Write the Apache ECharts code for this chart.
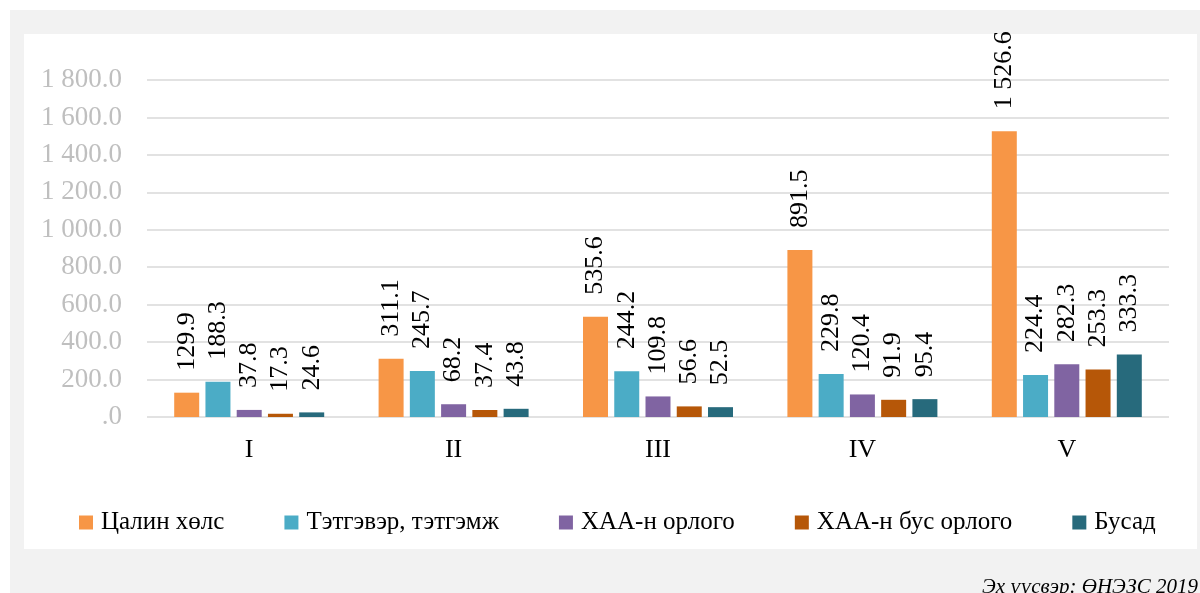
<!DOCTYPE html>
<html>
<head>
<meta charset="utf-8">
<title>Income by quintile</title>
<script src="https://cdn.jsdelivr.net/npm/echarts@6/dist/echarts.min.js"></script>
<style>
  html, body { margin: 0; padding: 0; background: #fff; }
  #chart { width: 1200px; height: 593px; }
</style>
</head>
<body>
<div id="chart"></div>
<script>
// quintiles
const categories = ['I', 'II', 'III', 'IV', 'V']
const seriesNames = ['Цалин хөлс', 'Тэтгэвэр, тэтгэмж', 'ХАА-н орлого', 'ХАА-н бус орлого', 'Бусад']
const wages = [129.9, 311.1, 535.6, 891.5, 1526.6]
const pensions = [188.3, 245.7, 244.2, 229.8, 224.4]
const agriIncome = [37.8, 68.2, 109.8, 120.4, 282.3]
const nonAgriIncome = [17.3, 37.4, 56.6, 91.9, 253.3]
const otherIncome = [24.6, 43.8, 52.5, 95.4, 333.3]
const colors = ['#f79646', '#4bacc6', '#8064a2', '#b65708', '#276a7c']
const sourceText = 'Эх үүсвэр: ӨНЭЗС 2019'

const FONT = "'Liberation Serif', serif"

// 1800 -> "1 800.0", 0 -> ".0"
function fmt(v) {
  if (v === 0) return '.0'
  const parts = v.toFixed(1).split('.')
  parts[0] = parts[0].replace(/\B(?=(\d{3})+(?!\d))/g, ' ')
  return parts.join('.')
}

const chart = echarts.init(document.getElementById('chart'))
const allValues = [wages, pensions, agriIncome, nonAgriIncome, otherIncome]

chart.setOption({
  animation: false,
  textStyle: { fontFamily: FONT },
  color: colors,
  graphic: [
    { type: 'rect', z: -10, shape: { x: 10, y: 10, width: 1190, height: 583 }, style: { fill: '#f2f2f2' } },
    { type: 'rect', z: -9, shape: { x: 24, y: 34, width: 1173, height: 515 }, style: { fill: '#ffffff' } },
    {
      type: 'text', right: 2, top: 577,
      style: { text: sourceText, font: 'italic 21px ' + FONT, fill: '#000' }
    }
  ],
  legend: {
    left: 74,
    top: 505,
    itemWidth: 14,
    itemHeight: 14,
    itemGap: 60,
    icon: 'rect',
    textStyle: { fontFamily: FONT, fontSize: 25, color: '#000', padding: [0, 0, 0, 3] },
    data: seriesNames
  },
  grid: {
    left: 147,
    right: 31,
    top: 80,
    bottom: 176
  },
  xAxis: {
    type: 'category',
    data: categories,
    axisLine: { show: false },
    axisTick: { show: false },
    axisLabel: { fontFamily: FONT, fontSize: 26, color: '#000', margin: 20 }
  },
  yAxis: {
    type: 'value',
    min: 0,
    max: 1800,
    interval: 200,
    axisLine: { show: false },
    axisTick: { show: false },
    splitLine: { lineStyle: { color: '#d9d9d9', width: 1.5 } },
    axisLabel: { fontFamily: FONT, fontSize: 27, color: '#bfbfbf', margin: 25, formatter: fmt }
  },
  series: seriesNames.map((name, i) => ({
    name,
    type: 'bar',
    data: allValues[i],
    barWidth: 25,
    barGap: '25%',
    label: {
      show: true,
      position: 'top',
      rotate: 90,
      align: 'left',
      verticalAlign: 'middle',
      distance: 22,
      fontFamily: FONT,
      fontSize: 26,
      color: '#000',
      formatter: p => fmt(p.value)
    }
  }))
})
</script>
</body>
</html>
